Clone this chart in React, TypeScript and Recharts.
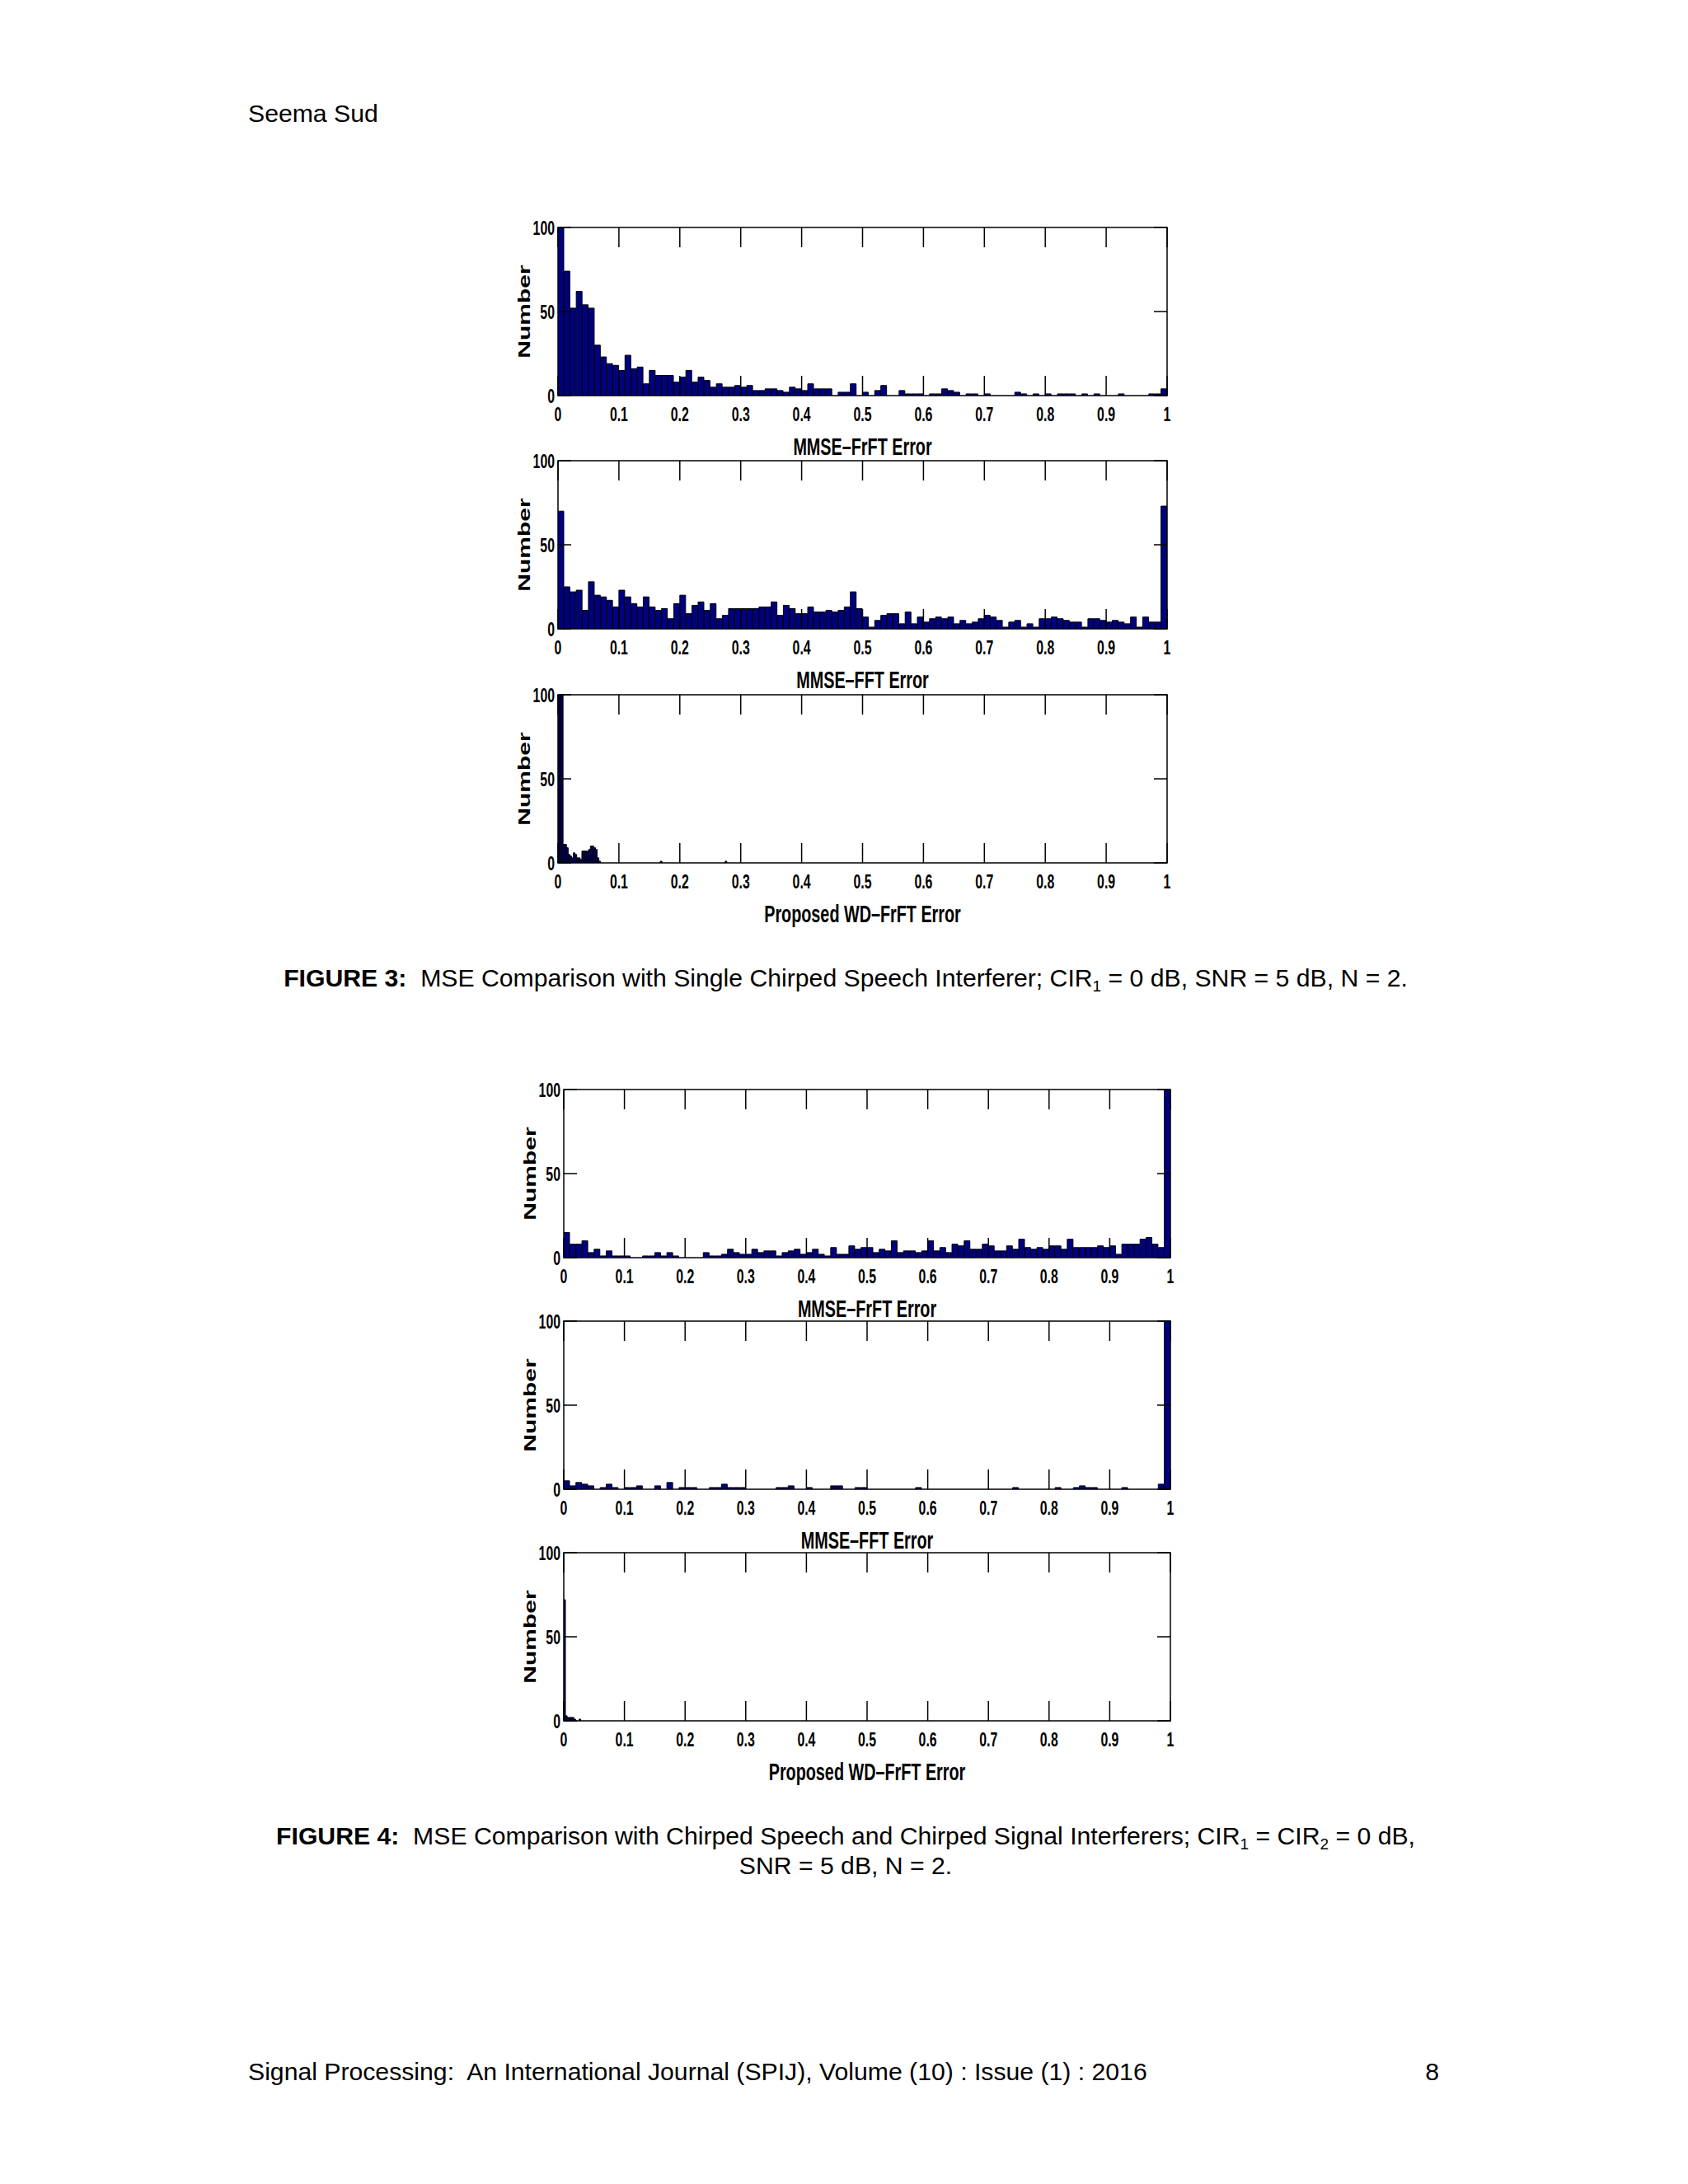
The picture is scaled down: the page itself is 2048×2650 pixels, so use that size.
import React from "react"
import { BarChart, Bar, XAxis, YAxis, ReferenceArea } from "recharts"

// axis ticks shared by all six histograms
const X_TICKS = [0, 0.1, 0.2, 0.3, 0.4, 0.5, 0.6, 0.7, 0.8, 0.9, 1]
const Y_TICKS = [0, 50, 100]

// bin widths (the WD-FrFT histograms use much finer bins)
const COARSE_BIN = 0.01
const FINE_BIN = 0.0028

// Figure 3 counts
const fig3FrftCounts = [
  100, 74, 52, 62, 54, 52, 30, 23, 19, 18,
  15, 24, 16, 17, 7, 15, 12, 12, 12, 8,
  11, 15, 8, 11, 9, 5, 7, 5, 5, 6,
  5, 6, 3, 3, 4, 4, 3, 2, 5, 4,
  3, 7, 4, 4, 4, 0, 2, 2, 7, 0,
  2, 0, 3, 6, 0, 0, 3, 1, 1, 1,
  0, 1, 1, 4, 3, 2, 0, 1, 1, 0,
  1, 0, 0, 0, 0, 2, 1, 0, 1, 0,
  1, 0, 1, 1, 1, 0, 1, 0, 1, 0,
  0, 0, 1, 0, 0, 0, 0, 1, 1, 4,
]

const fig3FftCounts = [
  70, 25, 22, 23, 11, 28, 20, 19, 17, 13,
  23, 19, 15, 13, 19, 13, 11, 12, 6, 15,
  20, 9, 14, 16, 11, 15, 6, 8, 12, 12,
  12, 12, 12, 13, 13, 16, 8, 14, 12, 9,
  9, 13, 10, 10, 11, 10, 11, 13, 22, 12,
  7, 1, 5, 8, 9, 9, 3, 10, 3, 7,
  4, 6, 7, 6, 7, 3, 5, 3, 4, 6,
  8, 7, 5, 1, 4, 5, 1, 3, 1, 6,
  6, 7, 6, 5, 4, 4, 1, 6, 6, 5,
  4, 5, 4, 3, 7, 1, 7, 4, 4, 73,
]

const fig3WdCounts = [
  100, 100, 100, 11, 11, 9, 5, 4, 3, 6,
  5, 3, 3, 2, 7, 7, 7, 7, 8, 10,
  10, 9, 8, 3, 1, 0, 0, 0, 0, 0,
  0, 0, 0, 0, 0, 0, 0, 0, 0, 0,
  0, 0, 0, 0, 0, 0, 0, 0, 0, 0,
  0, 0, 0, 0, 0, 0, 0, 0, 0, 0,
  1, 0, 0, 0, 0, 0, 0, 0, 0, 0,
  0, 0, 0, 0, 0, 0, 0, 0, 0, 0,
  0, 0, 0, 0, 0, 0, 0, 0, 0, 0,
  0, 0, 0, 0, 0, 0, 0, 0, 1, 0,
]

// Figure 4 counts
const fig4FrftCounts = [
  15, 8, 8, 10, 3, 5, 1, 4, 1, 1,
  1, 0, 0, 1, 1, 3, 1, 3, 1, 0,
  0, 0, 0, 3, 1, 1, 2, 5, 3, 2,
  2, 5, 3, 4, 4, 1, 3, 4, 5, 2,
  3, 5, 2, 1, 6, 2, 2, 7, 5, 6,
  6, 3, 5, 4, 10, 3, 4, 4, 3, 4,
  10, 4, 6, 3, 8, 7, 10, 5, 5, 8,
  7, 4, 4, 7, 5, 11, 6, 5, 6, 5,
  7, 7, 5, 11, 6, 6, 6, 6, 7, 6,
  7, 2, 8, 8, 8, 11, 12, 8, 6, 100,
]

const fig4FftCounts = [
  5, 2, 4, 3, 2, 0, 1, 3, 1, 0,
  1, 1, 2, 0, 0, 2, 0, 4, 0, 1,
  1, 1, 0, 0, 1, 1, 3, 1, 1, 1,
  0, 0, 0, 0, 0, 1, 1, 2, 0, 0,
  1, 0, 0, 0, 2, 2, 0, 0, 1, 1,
  0, 0, 0, 0, 0, 0, 0, 0, 1, 0,
  0, 0, 0, 0, 0, 0, 0, 0, 0, 0,
  0, 0, 0, 0, 1, 0, 0, 0, 0, 0,
  0, 1, 0, 0, 1, 2, 1, 1, 0, 0,
  0, 0, 1, 0, 0, 0, 0, 0, 3, 100,
]

const fig4WdCounts = [72, 3, 2, 2, 2, 2, 1, 0, 0, 1, 0, 0]

const TITLE_FRFT = "MMSE–FrFT Error"
const TITLE_FFT = "MMSE–FFT Error"
const TITLE_WD = "Proposed WD–FrFT Error"

const BAR_FILL = "#000080"
const FONT = "'Liberation Sans', Arial, Helvetica, sans-serif"
const SQUEEZE = 0.66 // the figure bitmap is squashed horizontally

const Y_AXIS_W = 90
const TOP_PAD = 30
const RIGHT_PAD = 30
const X_AXIS_H = 100
const X_TICK_LEN = 24
const Y_TICK_LEN = 16

interface PanelProps {
  left: number
  top: number
  plotW: number
  plotH: number
  counts: number[]
  binWidth: number
  title: string
}

function Panel({ left, top, plotW, plotH, counts, binWidth, title }: PanelProps) {
  const data = counts.map((n, i) => ({ x: (i + 0.5) * binWidth, n }))

  const renderXTick = (p: any) => {
    const { x, y, payload } = p
    return (
      <g>
        <line x1={x} x2={x} y1={y} y2={y - X_TICK_LEN} stroke="#000" strokeWidth={1.5} />
        <line x1={x} x2={x} y1={y - plotH} y2={y - plotH + X_TICK_LEN} stroke="#000" strokeWidth={1.5} />
        <text
          transform={`translate(${x},${y + 31}) scale(${SQUEEZE},1)`}
          textAnchor="middle"
          fontFamily={FONT}
          fontWeight="bold"
          fontSize={24}
          fill="#000"
        >
          {String(payload.value)}
        </text>
      </g>
    )
  }

  const renderYTick = (p: any) => {
    const { x, y, payload } = p
    return (
      <g>
        <line x1={x} x2={x + Y_TICK_LEN} y1={y} y2={y} stroke="#000" strokeWidth={1.5} />
        <line x1={x + plotW} x2={x + plotW - Y_TICK_LEN} y1={y} y2={y} stroke="#000" strokeWidth={1.5} />
        <text
          transform={`translate(${x - 4},${y + 9}) scale(${SQUEEZE},1)`}
          textAnchor="end"
          fontFamily={FONT}
          fontWeight="bold"
          fontSize={24}
          fill="#000"
        >
          {String(payload.value)}
        </text>
      </g>
    )
  }

  const renderXTitle = () => (
    <text
      transform={`translate(${Y_AXIS_W + plotW / 2},${TOP_PAD + plotH + 72}) scale(${SQUEEZE},1)`}
      textAnchor="middle"
      fontFamily={FONT}
      fontWeight="bold"
      fontSize={30}
      fill="#000"
    >
      {title}
    </text>
  )

  const renderYTitle = () => (
    <text
      transform={`translate(${Y_AXIS_W - 34},${TOP_PAD + plotH / 2}) scale(${SQUEEZE},1) rotate(-90)`}
      textAnchor="middle"
      fontFamily={FONT}
      fontWeight="bold"
      fontSize={30}
      fill="#000"
    >
      Number
    </text>
  )

  return (
    <div style={{ position: "absolute", left: left - Y_AXIS_W, top: top - TOP_PAD }}>
      <BarChart
        width={Y_AXIS_W + plotW + RIGHT_PAD}
        height={TOP_PAD + plotH + X_AXIS_H}
        data={data}
        margin={{ top: TOP_PAD, right: RIGHT_PAD, bottom: 0, left: 0 }}
        barCategoryGap={0}
        barGap={0}
      >
        <XAxis
          dataKey="x"
          type="number"
          domain={[0, 1]}
          allowDataOverflow
          ticks={X_TICKS}
          interval={0}
          axisLine={false}
          tickLine={false}
          tickSize={0}
          tickMargin={0}
          height={X_AXIS_H}
          tick={renderXTick}
          label={{ content: renderXTitle }}
        />
        <YAxis
          type="number"
          domain={[0, 100]}
          allowDataOverflow
          ticks={Y_TICKS}
          interval={0}
          axisLine={false}
          tickLine={false}
          tickSize={0}
          tickMargin={0}
          width={Y_AXIS_W}
          tick={renderYTick}
          label={{ content: renderYTitle }}
        />
        <Bar dataKey="n" fill={BAR_FILL} stroke="#000" strokeWidth={1} isAnimationActive={false} />
        <ReferenceArea x1={0} x2={1} y1={0} y2={100} fill="none" stroke="#000" strokeWidth={1.5} ifOverflow="visible" />
      </BarChart>
    </div>
  )
}

function PageText() {
  const base = { fontFamily: FONT, fontSize: 30.2, fill: "#000" }
  return (
    <svg width={2048} height={2650} style={{ position: "absolute", left: 0, top: 0 }}>
      <text x={301} y={148} {...base}>Seema Sud</text>

      <text x={1026} y={1197} textAnchor="middle" {...base} style={{ whiteSpace: "pre" }}>
        <tspan fontWeight="bold">FIGURE 3:</tspan>
        <tspan>{"  MSE Comparison with Single Chirped Speech Interferer; CIR"}</tspan>
        <tspan fontSize={19} dy={6}>1</tspan>
        <tspan dy={-6}>{" = 0 dB, SNR = 5 dB, N = 2."}</tspan>
      </text>

      <text x={1026} y={2238} textAnchor="middle" {...base} style={{ whiteSpace: "pre" }}>
        <tspan fontWeight="bold">FIGURE 4:</tspan>
        <tspan>{"  MSE Comparison with Chirped Speech and Chirped Signal Interferers; CIR"}</tspan>
        <tspan fontSize={19} dy={6}>1</tspan>
        <tspan dy={-6}>{" = CIR"}</tspan>
        <tspan fontSize={19} dy={6}>2</tspan>
        <tspan dy={-6}>{" = 0 dB,"}</tspan>
      </text>
      <text x={1026} y={2274} textAnchor="middle" {...base}>SNR = 5 dB, N = 2.</text>

      <text x={301} y={2524} {...base} style={{ whiteSpace: "pre" }}>
        {"Signal Processing:  An International Journal (SPIJ), Volume (10) : Issue (1) : 2016"}
      </text>
      <text x={1746} y={2524} textAnchor="end" {...base}>8</text>
    </svg>
  )
}

export default function App() {
  return (
    <div style={{ position: "absolute", left: 0, top: 0, width: 2048, height: 2650, background: "#fff" }}>
      <PageText />
      <Panel left={677} top={276} plotW={739} plotH={204} counts={fig3FrftCounts} binWidth={COARSE_BIN} title={TITLE_FRFT} />
      <Panel left={677} top={559} plotW={739} plotH={204} counts={fig3FftCounts} binWidth={COARSE_BIN} title={TITLE_FFT} />
      <Panel left={677} top={843} plotW={739} plotH={204} counts={fig3WdCounts} binWidth={FINE_BIN} title={TITLE_WD} />
      <Panel left={684} top={1322} plotW={736} plotH={204} counts={fig4FrftCounts} binWidth={COARSE_BIN} title={TITLE_FRFT} />
      <Panel left={684} top={1603} plotW={736} plotH={204} counts={fig4FftCounts} binWidth={COARSE_BIN} title={TITLE_FFT} />
      <Panel left={684} top={1884} plotW={736} plotH={204} counts={fig4WdCounts} binWidth={FINE_BIN} title={TITLE_WD} />
    </div>
  )
}
